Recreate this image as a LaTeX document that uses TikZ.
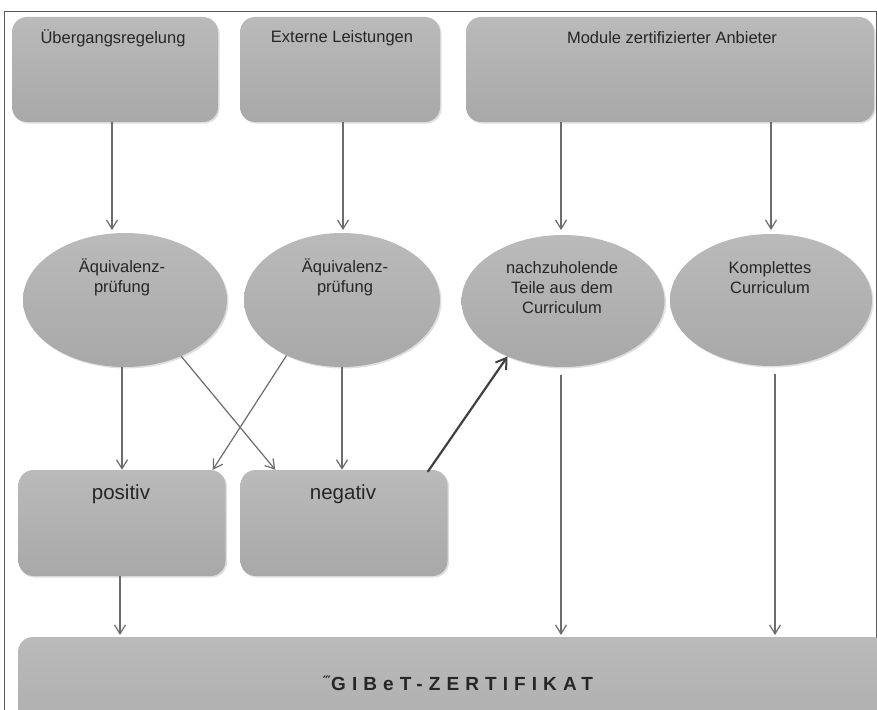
\documentclass[tikz,border=0pt]{standalone}
\usepackage{fontspec}
\setmainfont{Liberation Sans}
\newfontfamily\symfont{DejaVu Sans}
\newfontfamily\spacedfont[LetterSpace=32]{Liberation Sans}
\usetikzlibrary{shapes.geometric,shadows,arrows.meta}
\tikzset{
  boxfill/.style={top color=gray!54, bottom color=gray!68, draw=none,
    drop shadow={opacity=0.25, shadow xshift=1.5pt, shadow yshift=-1.5pt}},
  rbox/.style={boxfill, rectangle, rounded corners=15pt, inner sep=0pt},
  ell/.style={boxfill, ellipse, inner sep=0pt},
  txt/.style={font=\fontsize{16.5}{20}\selectfont, align=center, text=black!85, inner sep=0pt},
  conn/.style={draw=gray!85!black, line width=1.2pt, -{Straight Barb[length=9pt,width=11pt,line width=1.2pt]}},
  thick conn/.style={draw=black!75, line width=2.2pt, -{Straight Barb[length=10pt,width=13pt,line width=2pt]}}
}
\begin{document}
\begin{tikzpicture}[x=1pt,y=-1pt]
\useasboundingbox (0,0) rectangle (877,709);
\clip (0,0) rectangle (877,709);
\fill[white] (0,0) rectangle (877,709);
\draw[gray!70!black, line width=1pt] (4,720) -- (4,12) -- (876,12) -- (876,720);
% top boxes
\node[rbox, minimum width=206, minimum height=105] (b1) at (115,69.5) {};
\node[rbox, minimum width=200, minimum height=105] (b2) at (340,69.5) {};
\node[rbox, minimum width=408, minimum height=105] (b3) at (670,69.5) {};
\node[txt] (t1) at (113,38) {Übergangsregelung};
\node[txt] (t2) at (342,38) {Externe Leistungen};
\node[txt] (t3) at (672,38) {Module zertifizierter Anbieter};
% ellipses
\node[ell, minimum width=204, minimum height=134] (e1) at (125,300) {};
\node[ell, minimum width=196, minimum height=134] (e2) at (342,300) {};
\node[ell, minimum width=203, minimum height=132] (e3) at (563,301) {};
\node[ell, minimum width=202, minimum height=132] (e4) at (771,300) {};
\node[txt] (te1) at (122,277) {Äquivalenz-\\prüfung};
\node[txt] (te2) at (345,277) {Äquivalenz-\\prüfung};
\node[txt] (te3) at (562,288) {nachzuholende\\Teile aus dem\\Curriculum};
\node[txt] (te4) at (770,278) {Komplettes\\Curriculum};
% result boxes
\node[rbox, minimum width=207, minimum height=106] (pos) at (122,523) {};
\node[rbox, minimum width=207, minimum height=106] (neg) at (344,523) {};
\node[txt, font=\fontsize{20.5}{24}\selectfont] (tp) at (121,494) {positiv};
\node[txt, font=\fontsize{20.5}{24}\selectfont] (tn) at (343,494) {negativ};
% certificate
\node[rbox, minimum width=870, minimum height=140] (cert) at (453,707) {};
\node[txt, font=\fontsize{19}{22}\spacedfont\bfseries] (tc) at (458,683) {{\symfont\fontsize{13}{13}\selectfont\raisebox{5pt}{‴}}GIBeT-ZERTIFIKAT};
% connectors
\draw[conn] (b1.south -| 112,0) -- (112,230);
\draw[conn] (b2.south -| 343,0) -- (343,230);
\draw[conn] (b3.south -| 561,0) -- (561,230);
\draw[conn] (b3.south -| 771,0) -- (771,230);
\draw[conn] (e1.south -| pos.north) -- (pos.north);
\draw[conn] (e1.-45) -- ([xshift=35pt]neg.north west);
\draw[conn] (e2.-135) -- ([xshift=-13pt]pos.north east);
\draw[conn] (e2.south) -- (e2.south |- neg.north);
\draw[thick conn] ([xshift=-20pt,yshift=-2pt]neg.north east) -- (e3.-135);
\draw[conn] ([yshift=-8pt]e3.south -| 561,0) -- (561,635);
\draw[conn] ([yshift=-8pt]e4.south -| 775,0) -- (775,635);
\draw[conn] (pos.south -| 120,0) -- (120,635);
\end{tikzpicture}
\end{document}
